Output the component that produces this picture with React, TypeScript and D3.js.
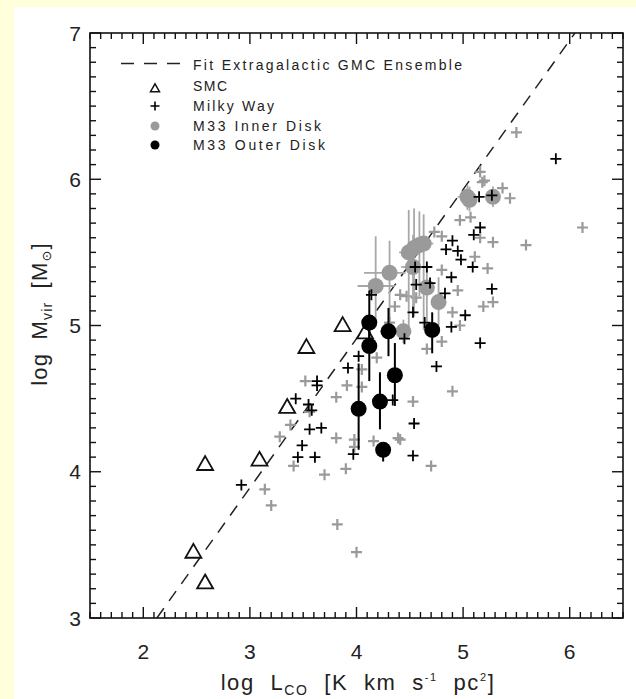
import React from "react";
import * as d3 from "d3";

const W = 636;
const H = 699;

const xDomain: [number, number] = [1.5, 6.5];
const yDomain: [number, number] = [3, 7];
const xTickLabels = [2, 3, 4, 5, 6];
const yTickLabels = [3, 4, 5, 6, 7];

// log M = a * log L + b
const fitSlope = 1.02;
const fitIntercept = 0.83;

// [log L_CO, log M_vir]
const smc: [number, number][] = [
  [2.47, 3.45], [2.58, 3.24], [2.58, 4.05], [3.09, 4.08],
  [3.35, 4.44], [3.53, 4.85], [3.87, 5.0], [4.08, 4.95],
];

const milkyWay: [number, number][] = [
  [5.87, 6.14], [5.15, 5.88], [5.27, 5.89], [5.16, 5.67], [5.1, 5.62],
  [4.9, 5.58], [4.84, 5.52], [4.95, 5.51], [4.98, 5.45], [5.09, 5.4],
  [4.89, 5.33], [4.83, 5.22], [5.27, 5.25], [5.02, 5.07], [4.89, 4.99],
  [5.16, 4.88], [4.55, 5.4], [4.66, 5.4], [4.56, 5.28], [4.69, 5.29],
  [4.14, 5.21], [4.53, 5.09], [4.02, 4.79], [3.92, 4.71], [3.63, 4.62],
  [3.63, 4.59], [3.43, 4.5], [3.58, 4.42], [3.56, 4.29], [3.67, 4.3],
  [3.49, 4.18], [3.45, 4.1], [3.61, 4.1], [3.97, 4.12], [4.45, 4.91],
  [4.34, 4.49], [4.54, 4.33], [4.53, 4.11], [2.92, 3.91], [4.75, 4.72],
  [4.64, 5.02], [3.55, 4.46],
];

const otherClouds: [number, number][] = [
  [5.16, 6.05], [5.18, 5.98], [5.2, 5.99], [5.37, 5.94], [5.44, 5.87],
  [4.97, 5.72], [5.07, 5.74], [5.16, 5.6], [5.28, 5.57], [5.59, 5.55],
  [6.12, 5.67], [5.11, 5.47], [5.23, 5.39], [5.28, 5.16], [5.19, 5.13],
  [4.9, 5.09], [4.97, 5.0], [4.95, 5.24], [4.8, 4.89], [5.5, 6.32],
  [4.73, 5.64], [4.8, 5.61], [4.8, 5.38], [4.41, 5.21], [4.36, 5.13],
  [4.56, 5.19], [4.66, 4.84], [3.52, 4.62], [3.91, 4.59], [3.81, 4.51],
  [3.38, 4.32], [3.28, 4.24], [3.81, 4.23], [3.41, 4.04], [3.7, 3.98],
  [3.9, 4.02], [3.14, 3.88], [3.2, 3.77], [3.98, 4.22], [4.16, 4.21],
  [4.53, 4.48], [4.39, 4.23], [4.41, 4.22], [4.7, 4.04], [3.82, 3.64],
  [4.0, 3.45], [4.9, 4.55], [4.31, 5.02], [4.05, 4.7], [4.19, 4.78],
  [4.05, 4.58], [3.56, 4.41], [4.47, 5.2], [3.98, 4.17],
];

// M33 inner disk: [log L, log M, M low, M high, L low, L high]
const m33Inner: [number, number, number, number, number, number][] = [
  [5.04, 5.88, 5.79, 5.96, 4.95, 5.13],
  [5.06, 5.86, 5.78, 5.95, 5.0, 5.12],
  [5.28, 5.88, 5.81, 5.95, 5.22, 5.34],
  [4.49, 5.5, 4.97, 5.79, 4.4, 4.6],
  [4.54, 5.53, 5.06, 5.8, 4.44, 4.66],
  [4.59, 5.55, 5.2, 5.78, 4.5, 4.7],
  [4.63, 5.56, 4.97, 5.76, 4.55, 4.72],
  [4.31, 5.36, 4.96, 5.58, 4.07, 4.46],
  [4.18, 5.27, 5.02, 5.61, 4.01, 4.36],
  [4.53, 5.4, 5.12, 5.62, 4.42, 4.64],
  [4.66, 5.26, 5.0, 5.42, 4.6, 4.72],
  [4.77, 5.16, 5.0, 5.33, 4.72, 4.82],
  [4.44, 4.96, 4.88, 5.04, 4.4, 4.48],
];

// M33 outer disk: [log L, log M, M low, M high]
const m33Outer: [number, number, number, number][] = [
  [4.12, 5.02, 4.88, 5.24],
  [4.12, 4.86, 4.62, 5.02],
  [4.3, 4.96, 4.79, 5.12],
  [4.71, 4.97, 4.81, 5.09],
  [4.36, 4.66, 4.45, 4.88],
  [4.02, 4.43, 4.15, 4.74],
  [4.22, 4.48, 4.29, 4.68],
  [4.25, 4.15, 4.07, 4.2],
];

const legendLabels = [
  "Fit Extragalactic GMC Ensemble",
  "SMC",
  "Milky Way",
  "M33 Inner Disk",
  "M33 Outer Disk",
];
const legendWidths = [269, 34, 81, 128, 132];

const FONT = "'Liberation Sans', Arial, Helvetica, sans-serif";
const GREY = "#9a9a9a";

const crossPath = (cx: number, cy: number, r: number) =>
  `M${cx - r},${cy}h${2 * r}M${cx},${cy - r}v${2 * r}`;

const triPath = (cx: number, cy: number, s: number) => {
  const h = s * 0.87;
  return `M${cx},${cy - h * 0.6}L${cx + s / 2},${cy + h * 0.4}L${cx - s / 2},${cy + h * 0.4}Z`;
};

export default function App() {
  const left = 90, right = 623, top = 33, bottom = 618;
  const x = d3.scaleLinear().domain(xDomain).range([left, right]);
  const y = d3.scaleLinear().domain(yDomain).range([bottom, top]);

  const xMinor = d3.range(15, 66).map((v) => v / 10);
  const yMinor = d3.range(30, 71).map((v) => v / 10);
  const isMajor = (v: number) => Math.abs(v - Math.round(v)) < 1e-6;

  const fitL0 = (yDomain[0] - fitIntercept) / fitSlope;
  const fitL1 = (yDomain[1] - fitIntercept) / fitSlope;
  const fitLine = d3
    .line<number>()
    .x((l) => x(l))
    .y((l) => y(fitSlope * l + fitIntercept))([fitL0, fitL1]);

  const legendX = 193;
  const legendBase = [69.5, 91, 110.5, 130.5, 150];
  const legendSym = 155;

  return (
    <div style={{ position: "absolute", left: 0, top: 0, width: W, height: H }}>
      <svg width={W} height={H} style={{ display: "block" }}>
        <defs>
          <filter id="soft" x="-20%" y="-20%" width="140%" height="140%">
            <feGaussianBlur stdDeviation="0.7" />
          </filter>
          <clipPath id="plotClip">
            <rect x={left} y={top} width={right - left} height={bottom - top} />
          </clipPath>
        </defs>
        <rect x={0} y={0} width={W} height={H} fill="#FFFFDB" />
        <rect x={14} y={7} width={W - 14} height={H - 7} fill="#ffffff" />

        {/* ticks on all four sides */}
        <g stroke="#111" strokeWidth={1.4}>
          {xMinor.map((v) => {
            const len = isMajor(v) ? 11 : 6;
            return (
              <g key={"xt" + v}>
                <line x1={x(v)} x2={x(v)} y1={bottom} y2={bottom - len} />
                <line x1={x(v)} x2={x(v)} y1={top} y2={top + len} />
              </g>
            );
          })}
          {yMinor.map((v) => {
            const len = isMajor(v) ? 11 : 6;
            return (
              <g key={"yt" + v}>
                <line x1={left} x2={left + len} y1={y(v)} y2={y(v)} />
                <line x1={right} x2={right - len} y1={y(v)} y2={y(v)} />
              </g>
            );
          })}
        </g>

        <g clipPath="url(#plotClip)">
          {/* fit line */}
          <path d={fitLine || ""} fill="none" stroke="#222" strokeWidth={1.5} strokeDasharray="12 9" />

          {/* other clouds, grey */}
          <g filter="url(#soft)" stroke={GREY} strokeWidth={2.2} fill="none">
            {otherClouds.map(([l, m], i) => (
              <path key={"g" + i} d={crossPath(x(l), y(m), 5.5)} />
            ))}
          </g>

          {/* M33 inner disk */}
          <g filter="url(#soft)">
            <g stroke="#a8a8a8" strokeWidth={1.8}>
              {m33Inner.map(([l, m, lo, hi, llo, lhi], i) => (
                <g key={"ie" + i}>
                  <line x1={x(l)} x2={x(l)} y1={y(lo)} y2={y(hi)} />
                  <line x1={x(llo)} x2={x(lhi)} y1={y(m)} y2={y(m)} />
                </g>
              ))}
            </g>
            {m33Inner.map(([l, m], i) => (
              <circle key={"ic" + i} cx={x(l)} cy={y(m)} r={8} fill={GREY} />
            ))}
          </g>

          {/* SMC */}
          <g stroke="#111" strokeWidth={1.8} fill="none">
            {smc.map(([l, m], i) => (
              <path key={"s" + i} d={triPath(x(l), y(m), 16)} />
            ))}
          </g>

          {/* Milky Way */}
          <g stroke="#000" strokeWidth={1.8} fill="none">
            {milkyWay.map(([l, m], i) => (
              <path key={"mw" + i} d={crossPath(x(l), y(m), 5.5)} />
            ))}
          </g>

          {/* M33 outer disk */}
          <g stroke="#000" strokeWidth={2}>
            {m33Outer.map(([l, , lo, hi], i) => (
              <line key={"oe" + i} x1={x(l)} x2={x(l)} y1={y(lo)} y2={y(hi)} />
            ))}
          </g>
          {m33Outer.map(([l, m], i) => (
            <circle key={"oc" + i} cx={x(l)} cy={y(m)} r={8} fill="#000" />
          ))}
        </g>

        {/* frame */}
        <rect x={left} y={top} width={right - left} height={bottom - top} fill="none" stroke="#111" strokeWidth={1.6} />

        {/* tick labels */}
        <g fontFamily={FONT} fontSize={21} fill="#222">
          {xTickLabels.map((v) => (
            <text key={"xl" + v} x={x(v)} y={659} textAnchor="middle">
              {v}
            </text>
          ))}
          {yTickLabels.map((v) => (
            <text key={"yl" + v} x={81} y={y(v) + 7.5} textAnchor="end">
              {v}
            </text>
          ))}
        </g>

        {/* axis titles */}
        <text x={358} y={690} textAnchor="middle" fontFamily={FONT} fontSize={22} fill="#222" letterSpacing={1.6} wordSpacing={8}>
          log L<tspan fontSize={14} dy={5}>CO</tspan>
          <tspan dy={-5}> [K km s</tspan>
          <tspan fontSize={11} dy={-9}>-1</tspan>
          <tspan dy={9}> pc</tspan>
          <tspan fontSize={11} dy={-9}>2</tspan>
          <tspan dy={9}>]</tspan>
        </text>
        <text
          transform={`translate(47,314) rotate(-90)`}
          textAnchor="middle"
          fontFamily={FONT}
          fontSize={22}
          fill="#222"
          letterSpacing={1.2}
          wordSpacing={6}
        >
          log M<tspan fontSize={14} dy={5}>vir</tspan>
          <tspan dy={-5}> [M</tspan>
          <tspan fontSize={13} dy={4} fontFamily="'DejaVu Sans', sans-serif">⊙</tspan>
          <tspan dy={-4}>]</tspan>
        </text>

        {/* legend */}
        <g>
          <line x1={121} x2={180} y1={63.5} y2={63.5} stroke="#222" strokeWidth={1.6} strokeDasharray="13 10" />
          <path d={triPath(legendSym, 88.5, 9)} stroke="#111" strokeWidth={1.5} fill="none" />
          <path d={crossPath(legendSym, 106, 4.5)} stroke="#000" strokeWidth={1.6} />
          <circle cx={legendSym} cy={126} r={4.5} fill={GREY} />
          <circle cx={legendSym} cy={145} r={4.5} fill="#000" />
          {legendLabels.map((t, i) => (
            <text
              key={"lg" + i}
              x={legendX}
              y={legendBase[i]}
              fontFamily={FONT}
              fontSize={14}
              fill="#222"
              textLength={legendWidths[i]}
              lengthAdjust="spacing"
            >
              {t}
            </text>
          ))}
        </g>
      </svg>
    </div>
  );
}
